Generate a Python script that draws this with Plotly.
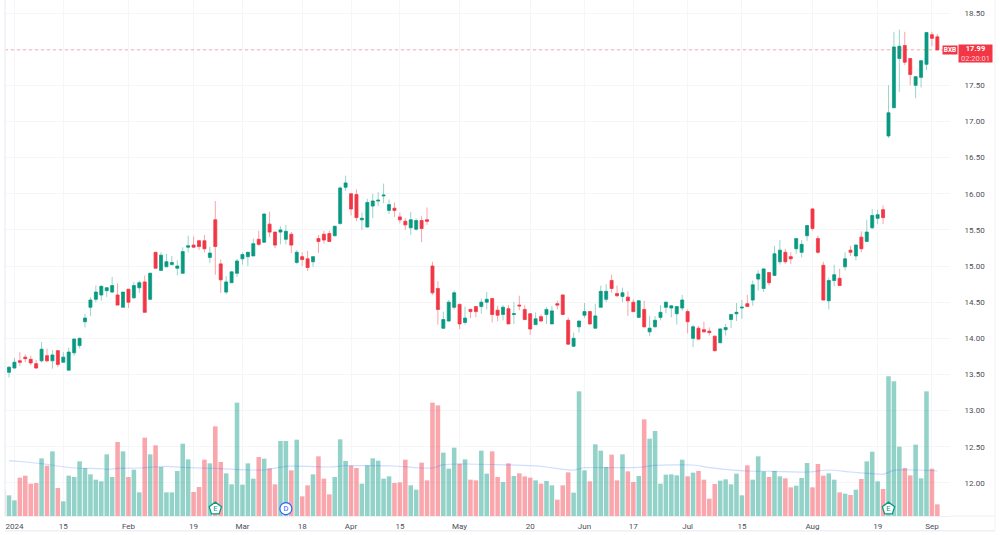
import plotly.graph_objects as go

# Daily OHLC for BXB, one row per trading session
opens = [13.53,13.59,13.69,13.74,13.71,13.65,13.69,13.76,13.69,13.83,13.67,13.56,13.80,13.90,14.23,14.43,14.54,14.60,14.66,14.64,
14.60,14.43,14.68,14.56,14.70,14.78,14.54,15.19,14.94,14.99,15.02,14.97,14.90,15.26,15.29,15.35,15.35,15.12,15.64,15.03,
14.64,14.77,14.90,15.10,15.13,15.14,15.37,15.33,15.58,15.47,15.47,15.37,15.44,15.05,15.13,15.10,15.06,15.38,15.44,15.45,
15.42,15.59,16.09,16.00,15.99,15.64,15.54,15.83,15.90,15.97,15.77,15.80,15.68,15.62,15.53,15.51,15.63,15.64,15.00,14.69,
14.14,14.24,14.43,14.47,14.22,14.40,14.44,14.44,14.50,14.55,14.39,14.33,14.41,14.33,14.46,14.40,14.34,14.19,14.30,14.33,
14.20,14.48,14.60,14.25,13.89,14.16,14.32,14.37,14.14,14.43,14.54,14.80,14.62,14.58,14.57,14.50,14.29,14.40,14.09,14.16,
14.29,14.43,14.42,14.34,14.42,14.37,14.00,14.14,14.12,14.10,14.03,13.94,14.12,14.26,14.34,14.42,14.48,14.53,14.82,14.69,
14.91,14.87,15.06,15.19,15.13,15.24,15.19,15.42,15.79,15.38,15.01,14.52,14.80,14.83,14.99,15.22,15.14,15.40,15.34,15.53,
15.66,15.78,16.80,17.19,17.87,18.05,17.87,17.50,17.61,17.79,18.20,18.17]
highs = [13.62,13.73,13.81,13.78,13.76,13.70,13.95,13.86,13.84,13.84,13.81,13.87,14.00,14.01,14.34,14.57,14.73,14.73,14.71,14.85,
14.76,14.64,14.68,14.78,14.80,14.87,14.91,15.19,15.19,15.17,15.14,15.08,15.26,15.42,15.41,15.36,15.43,15.27,15.90,15.09,
14.86,14.92,15.10,15.19,15.20,15.38,15.49,15.73,15.75,15.47,15.55,15.57,15.47,15.22,15.19,15.21,15.14,15.43,15.49,15.49,
15.56,16.10,16.25,16.00,16.06,15.74,15.93,16.00,16.02,16.14,15.92,15.88,15.74,15.66,15.75,15.66,15.69,15.81,15.06,14.79,
14.37,14.53,14.66,14.48,14.44,14.41,14.45,14.55,14.64,14.55,14.45,14.46,14.46,14.50,14.59,14.46,14.35,14.36,14.33,14.43,
14.45,14.52,14.61,14.29,14.08,14.24,14.49,14.38,14.48,14.73,14.75,14.88,14.73,14.70,14.65,14.54,14.53,14.52,14.31,14.31,
14.46,14.51,14.46,14.44,14.60,14.40,14.19,14.17,14.23,14.15,14.04,14.14,14.20,14.34,14.49,14.53,14.60,14.80,14.94,14.97,
14.91,15.28,15.36,15.24,15.19,15.38,15.36,15.57,15.80,15.42,15.06,14.84,15.02,14.96,15.19,15.28,15.30,15.48,15.64,15.79,
15.78,15.84,17.50,18.24,18.27,18.24,17.88,17.62,17.85,18.23,18.24,18.21]
lows = [13.46,13.58,13.62,13.67,13.63,13.58,13.67,13.67,13.58,13.60,13.66,13.56,13.76,13.86,14.15,14.31,14.50,14.52,14.57,14.63,
14.46,14.43,14.42,14.55,14.63,14.36,14.53,14.97,14.94,14.99,15.01,14.87,14.90,15.19,15.26,15.22,15.19,15.04,14.88,14.63,
14.61,14.77,14.85,15.02,15.00,15.14,15.28,15.32,15.40,15.25,15.30,15.30,15.18,15.03,15.00,14.93,14.99,15.18,15.31,15.34,
15.41,15.57,16.04,15.70,15.62,15.50,15.53,15.66,15.83,15.87,15.72,15.68,15.59,15.50,15.43,15.49,15.33,15.57,14.60,14.19,
14.13,14.23,14.40,14.13,14.19,14.28,14.29,14.34,14.40,14.22,14.24,14.25,14.20,14.20,14.39,14.26,14.05,14.19,14.23,14.20,
14.20,14.40,14.33,13.91,13.88,14.08,14.28,14.19,14.14,14.43,14.50,14.63,14.57,14.50,14.31,14.37,14.29,14.15,14.03,14.15,
14.25,14.35,14.29,14.19,14.38,14.07,13.88,13.98,14.08,14.04,13.82,13.93,14.04,14.14,14.24,14.27,14.44,14.45,14.66,14.64,
14.73,14.86,15.02,15.03,15.03,15.17,15.12,15.35,15.49,15.17,14.53,14.40,14.72,14.73,14.94,15.14,15.08,15.19,15.33,15.51,
15.58,15.58,16.77,17.19,17.41,17.78,17.50,17.32,17.47,17.71,18.04,17.99]
closes = [13.60,13.67,13.67,13.72,13.66,13.59,13.85,13.69,13.77,13.64,13.74,13.81,13.99,14.00,14.28,14.53,14.64,14.72,14.70,14.73,
14.46,14.64,14.50,14.73,14.77,14.36,14.90,14.97,15.15,15.06,15.05,15.00,15.20,15.28,15.26,15.27,15.24,15.18,15.27,14.81,
14.78,14.92,15.07,15.16,15.19,15.31,15.30,15.72,15.47,15.29,15.50,15.48,15.29,15.19,15.09,14.98,15.13,15.34,15.36,15.34,
15.55,16.08,16.15,15.79,15.67,15.66,15.88,15.90,15.91,15.98,15.85,15.77,15.64,15.57,15.64,15.63,15.52,15.62,14.63,14.40,
14.26,14.50,14.63,14.20,14.28,14.37,14.37,14.50,14.54,14.33,14.32,14.43,14.20,14.34,14.45,14.26,14.13,14.27,14.24,14.40,
14.38,14.46,14.33,13.92,14.00,14.24,14.37,14.20,14.31,14.65,14.65,14.69,14.59,14.63,14.52,14.37,14.52,14.16,14.14,14.25,
14.36,14.50,14.45,14.44,14.53,14.23,14.16,13.99,14.09,14.08,13.83,14.13,14.15,14.33,14.36,14.43,14.44,14.74,14.89,14.96,
14.77,15.17,15.22,15.06,15.10,15.38,15.30,15.56,15.52,15.19,14.53,14.80,14.88,14.73,15.10,15.19,15.29,15.24,15.47,15.70,
15.71,15.67,17.12,18.03,18.04,17.82,17.65,17.62,17.84,18.23,18.15,17.99]

# Session volume in units of 10k shares; the first entry is the session before the first candle
volumes = [77,62,47,115,121,97,99,173,151,194,84,44,121,117,164,144,125,109,104,185,117,
222,194,117,139,71,235,185,212,147,71,71,135,217,170,72,87,169,158,269,162,
128,95,340,94,158,112,177,172,143,95,225,225,137,229,59,92,125,179,112,65,
117,230,165,151,144,97,152,173,166,112,119,99,101,169,92,79,160,107,340,332,
190,142,205,157,170,109,107,196,127,194,117,102,158,120,128,119,115,107,97,105,
92,49,92,131,70,374,137,104,215,196,147,184,107,185,134,102,120,290,232,255,
97,124,125,122,169,119,130,135,109,52,96,106,110,95,127,62,152,109,179,134,
117,135,119,113,86,91,114,159,86,156,121,128,109,71,67,63,79,111,164,193,
104,81,419,404,208,144,122,214,113,374,142,35]
volume_up = [0,1,1,0,0,0,0,1,0,1,0,1,1,1,1,1,1,1,1,1,1,
0,1,0,1,1,0,1,0,1,1,1,1,1,1,0,0,0,1,0,0,
1,1,1,1,1,1,0,1,0,0,1,1,0,1,0,0,1,0,0,0,
1,1,1,0,0,1,1,1,1,1,1,0,0,0,1,1,0,0,0,0,
1,1,1,0,1,0,0,1,1,0,0,1,0,1,0,0,0,1,0,1,
1,0,0,0,1,1,1,0,1,1,1,0,0,1,0,0,1,0,1,1,
1,1,1,1,1,0,1,0,0,0,0,1,1,1,1,1,0,1,1,1,
0,1,1,0,0,1,1,1,0,0,0,1,1,0,1,0,1,0,1,1,
1,0,1,1,1,0,0,1,1,1,0,0]

# Volume moving average, read at selected sessions
ma_sessions = [1,4,7,10,13,18,19,21,25,30,34,40,44,48,52,56,60,63,68,72,76,79,81,85,91,97,100,103,105,107,112,117,120,127,130,133,137,142,148,152,156,160,162,164,168,172]
ma_values = [166,162,157,150,144,142,140,143,144,149,145,142,139,138,149,149,147,151,151,150,145,144,154,156,154,151,147,140,138,145,145,146,152,153,145,140,135,134,132,138,132,127,125,137,138,135]

# Tick labels on the time axis, with the session each one falls on
tick_sessions = [2,11,23,35,44,55,64,73,84,97,107,116,126,136,149,161,171]
tick_labels = ["2024","15","Feb","19","Mar","18","Apr","15","May","20","Jun","17","Jul","15","Aug","19","Sep"]
price_ticks = [12.0,12.5,13.0,13.5,14.0,14.5,15.0,15.5,16.0,16.5,17.0,17.5,18.0,18.5]
# 18.00 sits behind the last-price tag, so its label stays empty
price_tick_labels = ["12.00","12.50","13.00","13.50","14.00","14.50","15.00","15.50","16.00","16.50","17.00","17.50","","18.50"]

# Corporate events drawn along the volume pane
earnings_sessions = [39,163]
dividend_sessions = [52]
event_level = 22
last_price = 17.99

UP, DOWN = "#089981", "#f23645"
UP_WICK, DOWN_WICK = "rgba(8,153,129,0.42)", "rgba(242,54,69,0.45)"
UP_VOL, DOWN_VOL = "rgba(8,153,129,0.44)", "rgba(242,54,69,0.44)"
GRID = "#f5f6f8"
FONT = "Roboto"
TEXT = "#4a4e59"

sessions = list(range(1, len(opens) + 1))
vol_sessions = list(range(0, len(volumes)))
body_high = [max(o, c) for o, c in zip(opens, closes)]
body_low = [min(o, c) for o, c in zip(opens, closes)]

fig = go.Figure()

fig.add_bar(
    x=vol_sessions, y=volumes, yaxis="y2", width=0.84,
    marker=dict(color=[UP_VOL if u else DOWN_VOL for u in volume_up], line_width=0),
)
fig.add_scatter(
    x=ma_sessions, y=ma_values, yaxis="y2", mode="lines",
    line=dict(color="rgba(41,98,255,0.22)", width=1.2, shape="spline", smoothing=0.6),
)

# Wicks first in a paler tone, then the solid bodies over them
fig.add_candlestick(
    x=sessions, open=opens, high=highs, low=lows, close=closes,
    increasing=dict(line=dict(color=UP_WICK, width=1), fillcolor="rgba(0,0,0,0)"),
    decreasing=dict(line=dict(color=DOWN_WICK, width=1), fillcolor="rgba(0,0,0,0)"),
    whiskerwidth=0,
)
fig.add_candlestick(
    x=sessions, open=opens, high=body_high, low=body_low, close=closes,
    increasing=dict(line=dict(color=UP, width=0.5), fillcolor=UP),
    decreasing=dict(line=dict(color=DOWN, width=0.5), fillcolor=DOWN),
    whiskerwidth=0,
)

fig.add_scatter(
    x=earnings_sessions, y=[event_level] * len(earnings_sessions), yaxis="y2",
    mode="markers+text", text=["E"] * len(earnings_sessions), textposition="middle center",
    textfont=dict(family=FONT, size=7.5, color=UP),
    marker=dict(symbol="pentagon", size=13, color="white", line=dict(color=UP, width=1.3)),
)
fig.add_scatter(
    x=dividend_sessions, y=[event_level] * len(dividend_sessions), yaxis="y2",
    mode="markers+text", text=["D"] * len(dividend_sessions), textposition="middle center",
    textfont=dict(family=FONT, size=7.5, color="#2962ff"),
    marker=dict(symbol="circle", size=12, color="white", line=dict(color="#2962ff", width=1.2)),
)

fig.update_layout(
    width=1000, height=535,
    margin=dict(l=5, r=50, t=0, b=19, autoexpand=False),
    paper_bgcolor="white", plot_bgcolor="white",
    showlegend=False, boxmode="overlay", boxgap=0.22,
    font=dict(family=FONT, size=8, color=TEXT),
    xaxis=dict(
        range=[0.263, 174.33], rangeslider_visible=False,
        tickmode="array", tickvals=tick_sessions, ticktext=tick_labels,
        showgrid=True, gridcolor=GRID, gridwidth=1, zeroline=False,
        ticks="outside", ticklen=2, tickcolor="white",
        showline=True, linecolor="#eef0f4", linewidth=1,
    ),
    yaxis=dict(
        side="right", range=[11.543, 18.68],
        tickmode="array", tickvals=price_ticks, ticktext=price_tick_labels,
        showgrid=True, gridcolor=GRID, gridwidth=1, zeroline=False,
        ticks="outside", ticklen=12, tickcolor="white",
    ),
    yaxis2=dict(overlaying="y", range=[0, 1548], visible=False),
    shapes=[
        dict(type="line", xref="paper", x0=0, x1=1, yref="y", y0=last_price, y1=last_price,
             line=dict(color="rgba(242,54,69,0.4)", width=1, dash="dot")),
        dict(type="line", xref="paper", x0=0, x1=0, yref="paper", y0=0, y1=1,
             line=dict(color="#eef0f4", width=1.5)),
        dict(type="line", xref="paper", x0=0, x1=1.0476, yref="paper", y0=-0.0285, y1=-0.0285,
             line=dict(color="#eef0f4", width=1.5)),
        dict(type="line", xref="paper", x0=1.0476, x1=1.0476, yref="paper", y0=-0.0285, y1=1,
             line=dict(color="#f2f3f7", width=1)),
        dict(type="line", xref="paper", x0=1, x1=1.0476, yref="paper", y0=0, y1=0,
             line=dict(color="#eef0f4", width=1)),
    ],
    annotations=[
        dict(xref="paper", yref="y", x=1.0, y=last_price, xanchor="center", text="<b>BXB</b>", showarrow=False,
             font=dict(family=FONT, size=6.5, color="white"), bgcolor=DOWN,
             width=14, height=8, borderpad=0),
        dict(xref="paper", yref="y", x=1.0271, y=last_price, xanchor="center",
             text='<b>17.99</b><br><span style="color:#fbd0d4">02:20:01</span>', showarrow=False,
             font=dict(family=FONT, size=7.5, color="white"), bgcolor=DOWN,
             width=33, height=17, borderpad=0, yshift=-3.6),
    ],
)

fig.write_html("out.html")
